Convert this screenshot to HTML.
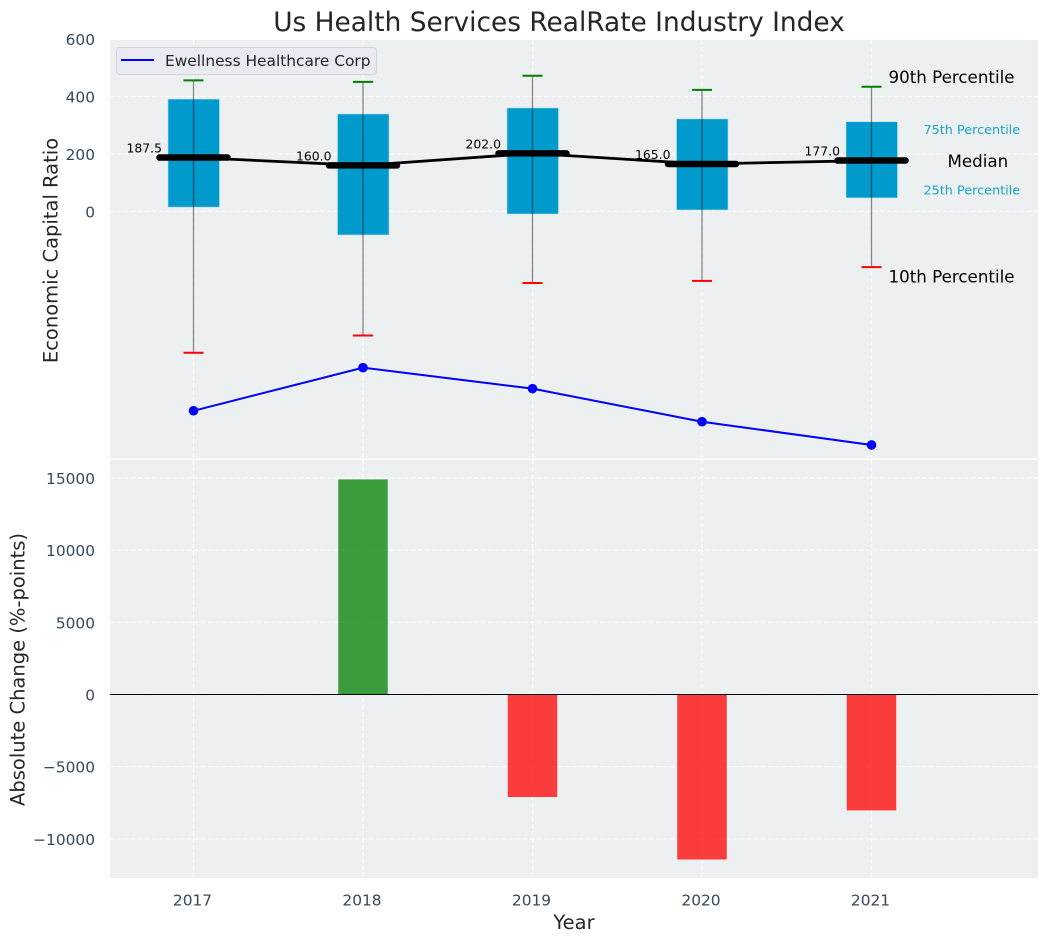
<!DOCTYPE html>
<html>
<head>
<meta charset="utf-8">
<title>Us Health Services RealRate Industry Index</title>
<style>
html,body{margin:0;padding:0;background:#fff;}
svg{display:block;font-family:"DejaVu Sans","Liberation Sans",sans-serif;}
</style>
</head>
<body>
<svg id="chart" width="1048" height="942" viewBox="0 0 1048 942">
  <rect x="110" y="40" width="928" height="418.5" fill="#ecf0f1"/>
  <rect x="110" y="460" width="928" height="418" fill="#ecf0f1"/>
  <g id="grid"></g>
  <g id="marks"></g>
  <text x="559" y="31" text-anchor="middle" font-size="26.4" fill="#262626">Us Health Services RealRate Industry Index</text>
  <text transform="translate(57.5,250.5) rotate(-90)" text-anchor="middle" font-size="19.5" fill="#262626">Economic Capital Ratio</text>
  <text transform="translate(24.5,669.5) rotate(-90)" text-anchor="middle" font-size="19.5" fill="#262626">Absolute Change (%-points)</text>
  <text x="574" y="929" text-anchor="middle" font-size="19.5" fill="#262626">Year</text>
  <g>
    <rect x="116.5" y="47.5" width="260" height="27" rx="3" fill="#eaeaf2" stroke="#d4d4d8" stroke-width="1"/>
    <line x1="121" y1="60" x2="154" y2="60" stroke="#0000ff" stroke-width="2"/>
    <text x="165" y="66" font-size="15.4" fill="#262626">Ewellness Healthcare Corp</text>
  </g>
</svg>
<script>
const years = [2017, 2018, 2019, 2020, 2021];
const q1Values = [15, -82, -9, 5, 47];
const q3Values = [391, 339, 360, 322, 312];
const medianValues = [187.5, 160.0, 202.0, 165.0, 177.0];
const p90Values = [456, 451, 472, 423, 434];
const p10Values = [-492, -432, -249, -242, -194];
const companyValues = [-694, -544, -617, -732, -813];
const changeYears = [2018, 2019, 2020, 2021];
const changeValues = [14900, -7100, -11430, -8030];
const topTicks = [0, 200, 400, 600];
const bottomTicks = [-10000, -5000, 0, 5000, 10000, 15000];

const NS = 'http://www.w3.org/2000/svg';
const gridLayer = document.getElementById('grid');
const markLayer = document.getElementById('marks');
const xPos = function (year) { return 193.5 + (year - 2017) * 169.5; };
const yTop = function (v) { return 211.4 - v * 0.2873; };
const yBottom = function (v) { return 694.5 - v * 0.014435; };

function make(parent, tag, props, label) {
  const el = document.createElementNS(NS, tag);
  for (const k in props) { el.setAttribute(k, props[k]); }
  if (label !== undefined) { el.textContent = label; }
  parent.appendChild(el);
  return el;
}

const gridStyle = { stroke: '#ffffff', 'stroke-width': 1.2, 'stroke-dasharray': '4.5 2.5', opacity: 0.85 };

/* vertical grid and x tick labels */
years.forEach(function (year) {
  const x = xPos(year);
  const g1 = make(gridLayer, 'line', Object.assign({ x1: x, x2: x, y1: 40, y2: 458.5 }, gridStyle));
  
  
  const g2 = make(gridLayer, 'line', Object.assign({ x1: x, x2: x, y1: 460, y2: 878 }, gridStyle));
  
  
  const t = make(markLayer, 'text', { x: x - 1, y: 905.5, 'text-anchor': 'middle', 'font-size': 15.4, fill: '#34495e' }, String(year));
  
  
});

/* horizontal grid and y tick labels, top axis */
topTicks.forEach(function (v) {
  const y = yTop(v);
  const g = make(gridLayer, 'line', Object.assign({ x1: 110, x2: 1038, y1: y, y2: y }, gridStyle));
  
  
  const t = make(markLayer, 'text', { x: 95, y: y + 6, 'text-anchor': 'end', 'font-size': 15.4, fill: '#34495e' }, String(v));
  
  
});

/* horizontal grid and y tick labels, bottom axis */
bottomTicks.forEach(function (v) {
  const y = yBottom(v);
  const g = make(gridLayer, 'line', Object.assign({ x1: 110, x2: 1038, y1: y, y2: y }, gridStyle));
  
  
  const text = v < 0 ? '\u2212' + Math.abs(v) : String(v);
  const t = make(markLayer, 'text', { x: 95, y: y + 6, 'text-anchor': 'end', 'font-size': 15.4, fill: '#34495e' }, text);
  
  
});

/* boxes */
years.forEach(function (year, i) {
  const x = xPos(year);
  const box = make(markLayer, 'rect', { x: x - 25.5, y: yTop(q3Values[i]), width: 51.5, height: yTop(q1Values[i]) - yTop(q3Values[i]), fill: '#009acd', stroke: '#b9dfea', 'stroke-width': 0.6 });
  
  
});

/* whiskers and caps */
years.forEach(function (year, i) {
  const x = xPos(year);
  const w = make(markLayer, 'line', { x1: x, x2: x, y1: yTop(p90Values[i]), y2: yTop(p10Values[i]), stroke: '#000000', 'stroke-opacity': 0.45, 'stroke-width': 1.3 });
  
  
  const hi = make(markLayer, 'line', { x1: x - 10, x2: x + 10, y1: yTop(p90Values[i]), y2: yTop(p90Values[i]), stroke: '#008000', 'stroke-width': 2 });
  
  
  const lo = make(markLayer, 'line', { x1: x - 10, x2: x + 10, y1: yTop(p10Values[i]), y2: yTop(p10Values[i]), stroke: '#ff0000', 'stroke-width': 2 });
  
  
});

/* median trend line */
const medianPath = make(markLayer, 'polyline', {
  points: years.map(function (year, i) { return xPos(year) + ',' + yTop(medianValues[i]); }).join(' '),
  fill: 'none', stroke: '#000000', 'stroke-width': 2.8
});



/* median bars and labels */
years.forEach(function (year, i) {
  const x = xPos(year);
  const y = yTop(medianValues[i]);
  const m = make(markLayer, 'line', { x1: x - 34, x2: x + 34, y1: y, y2: y, stroke: '#000000', 'stroke-width': 6.5, 'stroke-linecap': 'round' });
  
  
  const t = make(markLayer, 'text', { x: x - 31.5, y: y - 5, 'text-anchor': 'end', 'font-size': 12.4, fill: '#000000' }, medianValues[i].toFixed(1));
  
  
});

/* company series */
const companyLine = make(markLayer, 'polyline', {
  points: years.map(function (year, i) { return xPos(year) + ',' + yTop(companyValues[i]); }).join(' '),
  fill: 'none', stroke: '#0000ff', 'stroke-width': 2
});


years.forEach(function (year, i) {
  const c = make(markLayer, 'circle', { cx: xPos(year), cy: yTop(companyValues[i]), r: 4.8, fill: '#0000ff' });
  
  
});

/* change bars */
changeYears.forEach(function (year, i) {
  const v = changeValues[i];
  const y0 = yBottom(0);
  const y1 = yBottom(v);
  const b = make(markLayer, 'rect', { x: xPos(year) - 24.75, y: Math.min(y0, y1), width: 49.5, height: Math.abs(y1 - y0), fill: v >= 0 ? '#008000' : '#ff0000', 'fill-opacity': 0.75 });
  
  
});

const zero = make(markLayer, 'line', { x1: 110, x2: 1038, y1: yBottom(0), y2: yBottom(0), stroke: '#000000', 'stroke-width': 1.1 });



/* percentile annotations anchored on the last box */
const last = years.length - 1;
const lastX = xPos(years[last]);
const a90 = make(markLayer, 'text', { x: lastX + 17, y: yTop(p90Values[last]) - 3.5, 'font-size': 16.7, fill: '#000000' }, '90th Percentile');


const a10 = make(markLayer, 'text', { x: lastX + 17, y: yTop(p10Values[last]) + 15.5, 'font-size': 16.7, fill: '#000000' }, '10th Percentile');


const a75 = make(markLayer, 'text', { x: lastX + 52, y: yTop(q3Values[last]) + 12, 'font-size': 12.8, fill: '#009acd', 'fill-opacity': 0.9 }, '75th Percentile');


const a25 = make(markLayer, 'text', { x: lastX + 52, y: yTop(q1Values[last]) - 3.5, 'font-size': 12.8, fill: '#009acd', 'fill-opacity': 0.9 }, '25th Percentile');


const aMed = make(markLayer, 'text', { x: lastX + 76, y: yTop(medianValues[last]) + 6.5, 'font-size': 16.7, fill: '#000000' }, 'Median');


</script>
</body>
</html>
